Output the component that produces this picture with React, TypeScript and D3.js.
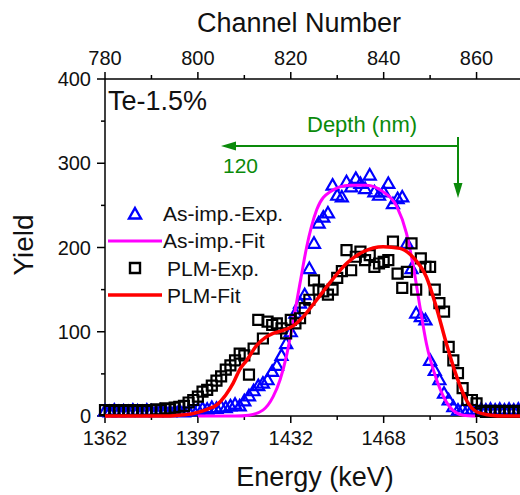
import React from "react";
import { scaleLinear, line, curveMonotoneX } from "d3";

// channel axis (top) and the matching energy labels (bottom)
const channelTicks = [780, 800, 820, 840, 860];
const channelMinor = [790, 810, 830, 850];
const energyLabels = ["1362", "1397", "1432", "1468", "1503"];
const yTicks = [0, 100, 200, 300, 400];
const yMinor = [50, 150, 250, 350];

// measured spectra, one value per channel starting at 780
const firstChannel = 780;
const asImpExp = [
    6, 5, 7, 5, 6, 5, 7, 6, 5, 7, 6, 5, 7, 6, 5, 6, 7, 5, 6, 7,
    8, 9, 8, 10, 9, 11, 10, 12, 14, 12, 18, 24, 30, 36, 39, 43, 53, 60, 72, 86,
    100, 122, 134, 144, 175, 205, 229, 236, 241, 274, 262, 260, 278, 272, 282, 276, 270, 286, 266, 262,
    266, 276, 252, 258, 260, 205, 175, 122, 118, 114, 66, 54, 43, 27, 19, 11, 7, 8,
    7, 8, 7, 8, 7, 8, 7, 8, 7, 8, 7, 8, 7
];
const plmExp = [
    7, 6, 7, 6, 7, 6, 7, 6, 7, 6, 7, 8, 7, 9, 8, 10,
    11, 12, 16, 19, 23, 29, 31, 36, 42, 47, 55, 60, 66, 74, 72, 49, 80, 114, 92, 112,
    108, 110, 104, 98, 114, 110, 116, 128, 138, 161, 150, 148, 144, 150, 164, 172, 197, 173, 189, 195,
    185, 191, 177, 181, 183, 185, 207, 169, 152, 171, 205, 150, 187, 177, 177, 150, 134, 124, 82, 66,
    51, 33, 19, 19, 15, 6,
    5, 6, 5, 6, 5, 6, 5, 6, 5
];

// fitted curves
const asFitCh = [800, 808, 811, 814, 816.2, 817.7, 819.1, 820.5, 822, 823.4, 825.6, 828.4, 832.7, 836.3, 839.9, 842.8, 844.9, 846.4, 847.8, 849.2, 851.4, 854.2, 857.1, 860];
const asFitY = [0, 0, 1, 7, 23, 43, 72, 112, 158, 200, 245, 266, 274, 274, 266, 249, 217, 177, 130, 86, 43, 11, 1, 0];
const plmFitCh = [780, 792, 796, 799, 802, 804, 806, 807.6, 809, 810.5, 812.7, 814.5, 816.2, 818, 820.5, 822.7, 825.6, 828.4, 832, 835.6, 839.9, 843.5, 846.4, 849.2, 851.4, 853.5, 855.7, 857.8, 860, 863, 866, 870];
const plmFitY = [0, 0, 1, 3, 8, 13, 25, 39, 55, 66, 84, 93, 98, 101, 107, 118, 138, 158, 181, 195, 201, 199, 188, 165, 128, 86, 47, 19, 5, 1, 0, 0];

const FONT = "'Liberation Sans', Arial, sans-serif";
const GREEN = "#0a8a0a";

export default function App() {
    const left = 105, right = 523, top = 79, bottom = 416;

    const x = scaleLinear().domain([780, 870]).range([left, right]);
    const y = scaleLinear().domain([0, 400]).range([bottom, top]);

    const fitLine = line<[number, number]>()
        .x(d => x(d[0]))
        .y(d => y(d[1]))
        .curve(curveMonotoneX);

    const asFit = fitLine(asFitCh.map((c, i) => [c, asFitY[i]]));
    const plmFit = fitLine(plmFitCh.map((c, i) => [c, plmFitY[i]]));

    const tri = "M0,-6L6,4.5L-6,4.5Z";
    const sq = "M-5,-5H5V5H-5Z";

    return (
        <svg width={520} height={495} style={{ position: "absolute", left: 0, top: 0 }} fontFamily={FONT}>
            <rect width={520} height={495} fill="white" />

            {/* axes */}
            <g stroke="#000" strokeWidth={1.5}>
                <line x1={left} x2={520} y1={bottom} y2={bottom} />
                <line x1={left} x2={520} y1={top} y2={top} />
                <line x1={left} x2={left} y1={top} y2={bottom} />
                {channelTicks.map(c => (
                    <g key={c}>
                        <line x1={x(c)} x2={x(c)} y1={bottom} y2={bottom + 7} />
                        <line x1={x(c)} x2={x(c)} y1={top} y2={top - 7} />
                    </g>
                ))}
                {channelMinor.map(c => (
                    <g key={c}>
                        <line x1={x(c)} x2={x(c)} y1={bottom} y2={bottom + 4} />
                        <line x1={x(c)} x2={x(c)} y1={top} y2={top - 4} />
                    </g>
                ))}
                {yTicks.map(v => <line key={v} x1={left - 8} x2={left} y1={y(v)} y2={y(v)} />)}
                {yMinor.map(v => <line key={v} x1={left - 4} x2={left} y1={y(v)} y2={y(v)} />)}
            </g>
            <g fontSize={20} fill="#111">
                {channelTicks.map((c, i) => (
                    <text key={c} x={x(c)} y={445} textAnchor="middle">{energyLabels[i]}</text>
                ))}
                {channelTicks.map(c => (
                    <text key={c} x={x(c)} y={65} textAnchor="middle">{c}</text>
                ))}
                {yTicks.map(v => (
                    <text key={v} x={91} y={y(v) + 7} textAnchor="end">{v}</text>
                ))}
            </g>
            <text x={299} y={32} fontSize={27} textAnchor="middle" fill="#111">Channel Number</text>
            <text x={315} y={486} fontSize={27} textAnchor="middle" fill="#111">Energy (keV)</text>
            <text transform="translate(33,245) rotate(-90)" fontSize={28} textAnchor="middle" fill="#111">Yield</text>
            <text x={108} y={110} fontSize={27} fill="#111">Te-1.5%</text>

            {/* data */}
            <g fill="none" stroke="#0000ff" strokeWidth={2.2}>
                {asImpExp.map((v, i) => (
                    <path key={i} d={tri} transform={`translate(${x(firstChannel + i)},${y(v)})`} />
                ))}
            </g>
            <path d={asFit ?? ""} fill="none" stroke="#ff00ff" strokeWidth={3} />
            <g fill="none" stroke="#000" strokeWidth={2.2}>
                {plmExp.map((v, i) => (
                    <path key={i} d={sq} transform={`translate(${x(firstChannel + i)},${y(v)})`} />
                ))}
            </g>
            <path d={plmFit ?? ""} fill="none" stroke="#ff0000" strokeWidth={3.5} />

            {/* depth annotation */}
            <g stroke={GREEN} strokeWidth={2} fill={GREEN}>
                <line x1={234} x2={458} y1={146} y2={146} />
                <path d="M221,146L236,141.5L236,150.5Z" stroke="none" />
                <line x1={458} x2={458} y1={137} y2={185} />
                <path d="M458,198L453.5,183L462.5,183Z" stroke="none" />
            </g>
            <text x={307} y={132} fontSize={22} fill={GREEN}>Depth (nm)</text>
            <text x={223} y={173} fontSize={21} fill={GREEN}>120</text>

            {/* legend */}
            <g fontSize={21} fill="#111">
                <path d={tri} transform="translate(135,214)" fill="none" stroke="#0000ff" strokeWidth={2.4} />
                <text x={163} y={221}>As-imp.-Exp.</text>
                <line x1={108} x2={162} y1={241} y2={241} stroke="#ff00ff" strokeWidth={3} />
                <text x={163} y={248}>As-imp.-Fit</text>
                <path d={sq} transform="translate(135,268)" fill="none" stroke="#000" strokeWidth={2.4} />
                <text x={167} y={276}>PLM-Exp.</text>
                <line x1={108} x2={162} y1={295} y2={295} stroke="#ff0000" strokeWidth={3.5} />
                <text x={167} y={303}>PLM-Fit</text>
            </g>
        </svg>
    );
}
